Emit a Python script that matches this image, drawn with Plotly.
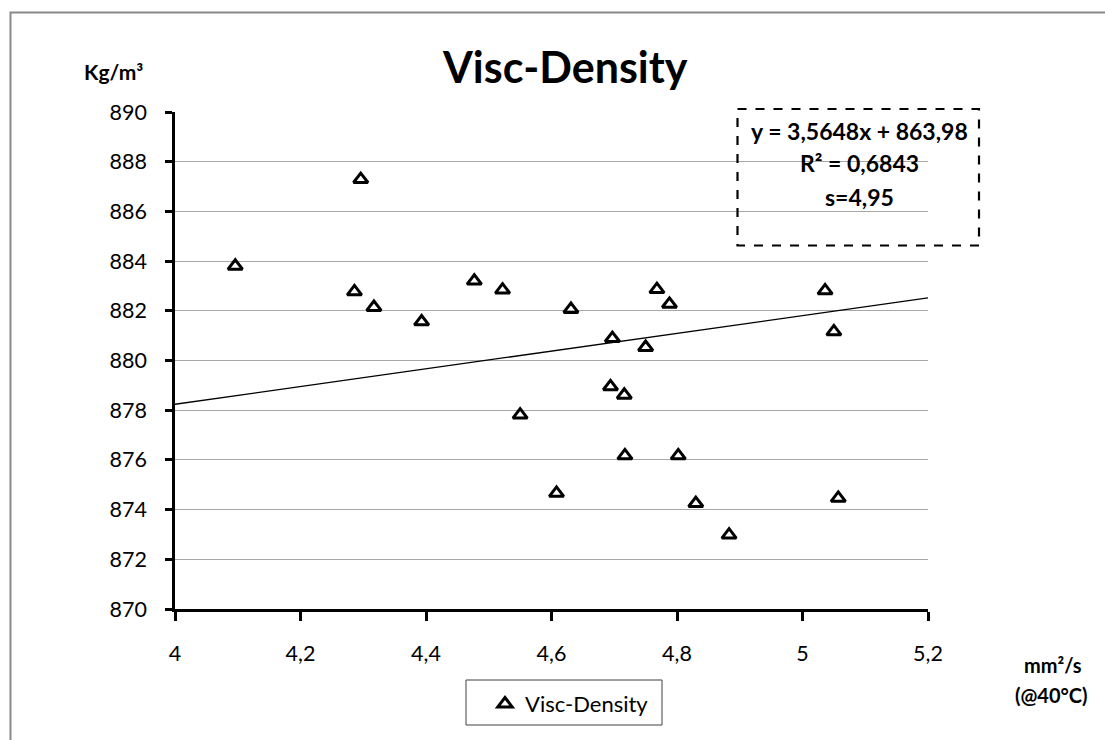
import plotly.graph_objects as go

# Viscosity (mm²/s @40°C) vs density (kg/m³) samples
viscosity = [4.096, 4.296, 4.286, 4.317, 4.393, 4.477, 4.522, 4.631, 4.768, 4.788,
             4.697, 4.750, 5.036, 5.050, 4.550, 4.608, 4.694, 4.716, 4.717, 4.802,
             4.830, 4.883, 5.057]
density = [883.80, 887.29, 882.77, 882.14, 881.56, 883.20, 882.84, 882.06, 882.86, 882.27,
           880.89, 880.53, 882.81, 881.16, 877.81, 874.66, 878.95, 878.61, 876.17, 876.17,
           874.25, 872.98, 874.46]

# Linear trend line coefficients as printed in the equation box
slope = 3.5648
intercept = 863.98
trend_x = [4.0, 5.2]
trend_y = [slope * v + intercept for v in trend_x]

x_ticks = [4.0, 4.2, 4.4, 4.6, 4.8, 5.0, 5.2]
x_tick_labels = ["4", "4,2", "4,4", "4,6", "4,8", "5", "5,2"]
y_ticks = [870, 872, 874, 876, 878, 880, 882, 884, 886, 888, 890]
y_tick_labels = [str(v) for v in y_ticks]

FONT = "Lato"
W, H = 1105, 740
L, R, T, B = 175, 928, 112, 609  # plot area in px


def px_x(p):
    return (p - L) / (R - L)


def px_y(p):
    return 1 - (p - T) / (B - T)


fig = go.Figure()

fig.add_trace(go.Scatter(
    x=trend_x, y=trend_y, mode="lines",
    line=dict(color="black", width=1.3),
    showlegend=False, hoverinfo="skip",
))

fig.add_trace(go.Scatter(
    x=viscosity, y=density, mode="markers", name="Visc-Density",
    marker=dict(symbol="triangle-up-open", size=12.5, color="black",
                line=dict(color="black", width=3)),
))

shapes = [
    # outer chart frame
    dict(type="rect", xref="paper", yref="paper",
         x0=px_x(10.5), x1=px_x(1112), y0=px_y(12.5), y1=px_y(760),
         line=dict(color="#898989", width=2), layer="below"),
    # dashed equation box
    dict(type="rect", xref="paper", yref="paper",
         x0=px_x(737.5), x1=px_x(979), y0=px_y(109), y1=px_y(245.5),
         line=dict(color="black", width=2.2, dash="dash")),
    # legend frame
    dict(type="rect", xref="paper", yref="paper",
         x0=px_x(466), x1=px_x(662), y0=px_y(680), y1=px_y(725),
         line=dict(color="#404040", width=1)),
]

annotations = [
    dict(text="<b>Visc-Density</b>", xref="paper", yref="paper",
         x=px_x(565), y=px_y(66), xanchor="center", yanchor="middle",
         showarrow=False, font=dict(family=FONT, size=43, color="black")),
    dict(text="<b>Kg/m³</b>", xref="paper", yref="paper",
         x=px_x(113), y=px_y(71), xanchor="center", yanchor="middle",
         showarrow=False, font=dict(family=FONT, size=21, color="black")),
    dict(text="<b>mm²/s</b>", xref="paper", yref="paper",
         x=px_x(1053), y=px_y(665), xanchor="center", yanchor="middle",
         showarrow=False, font=dict(family=FONT, size=20, color="black")),
    dict(text="<b>(@40°C)</b>", xref="paper", yref="paper",
         x=px_x(1051), y=px_y(695), xanchor="center", yanchor="middle",
         showarrow=False, font=dict(family=FONT, size=20, color="black")),
    dict(text="<b>y = 3,5648x + 863,98</b>", xref="paper", yref="paper",
         x=px_x(859), y=px_y(131), xanchor="center", yanchor="middle",
         showarrow=False, font=dict(family=FONT, size=23, color="black")),
    dict(text="<b>R² = 0,6843</b>", xref="paper", yref="paper",
         x=px_x(859), y=px_y(163), xanchor="center", yanchor="middle",
         showarrow=False, font=dict(family=FONT, size=23, color="black")),
    dict(text="<b>s=4,95</b>", xref="paper", yref="paper",
         x=px_x(859), y=px_y(197), xanchor="center", yanchor="middle",
         showarrow=False, font=dict(family=FONT, size=23, color="black")),
]

fig.update_layout(
    width=W, height=H,
    margin=dict(l=L, r=W - R, t=T, b=H - B, pad=0),
    paper_bgcolor="white", plot_bgcolor="white",
    font=dict(family=FONT, size=21, color="black"),
    shapes=shapes, annotations=annotations,
    showlegend=True,
    legend=dict(x=px_x(485), y=px_y(683), xanchor="left", yanchor="top",
                bgcolor="rgba(0,0,0,0)", borderwidth=0,
                font=dict(family=FONT, size=22, color="black"),
                itemwidth=30),
)

fig.update_xaxes(
    range=[4.0, 5.2], tickvals=x_ticks, ticktext=x_tick_labels,
    showline=True, linecolor="black", linewidth=2.6,
    ticks="outside", ticklen=9, tickwidth=2.6, tickcolor="black",
    showgrid=False, zeroline=False, ticklabelstandoff=14,
    tickfont=dict(family=FONT, size=21.5, color="black"),
)
fig.update_yaxes(
    range=[870, 890], tickvals=y_ticks, ticktext=y_tick_labels,
    showline=True, linecolor="black", linewidth=2.6,
    ticks="outside", ticklen=7, tickwidth=2.6, tickcolor="black",
    showgrid=True, gridcolor="#a8a8a8", gridwidth=1.2,
    zeroline=False, ticklabelstandoff=14,
    tickfont=dict(family=FONT, size=21.5, color="black"),
)

fig.write_html("out.html")
